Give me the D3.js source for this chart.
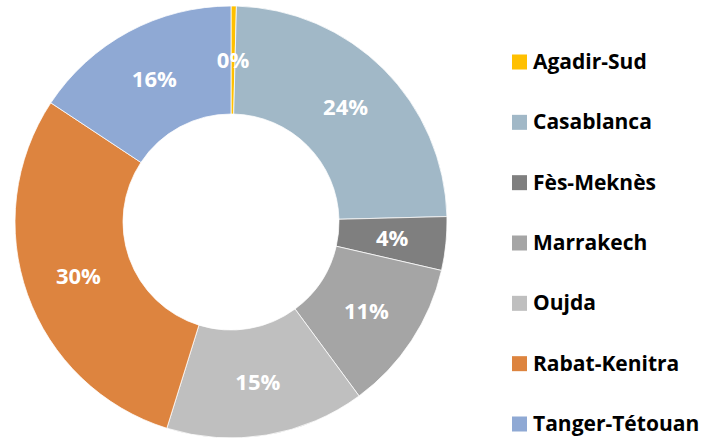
<!DOCTYPE html>
<html>
<head>
<meta charset="utf-8">
<script src="https://cdn.jsdelivr.net/npm/d3@7"></script>
<style>
  body { margin: 0; background: #fff; }
  text { font-family: "Open Sans", Lato, sans-serif; font-weight: bold; }
</style>
</head>
<body>
<script>
// data (shares in %)
var regions = ["Agadir-Sud", "Casablanca", "Fès-Meknès", "Marrakech", "Oujda", "Rabat-Kenitra", "Tanger-Tétouan"];
var shares = [0.4, 24.2, 4.0, 11.3, 14.9, 29.5, 15.7];
var labels = ["0%", "24%", "4%", "11%", "15%", "30%", "16%"];
var colors = ["#FFC000", "#A1B8C7", "#7F7F7F", "#A5A5A5", "#BFBFBF", "#DD843F", "#8FA9D4"];

var width = 707, height = 438;
var cx = 231, cy = 222, outer = 216, inner = 108;

var svg = d3.select("body").append("svg")
  .attr("width", width)
  .attr("height", height);

var color = d3.scaleOrdinal().domain(regions).range(colors);

var pie = d3.pie().sort(null).value(function(d, i) { return shares[i]; });
var arcs = pie(regions);

var arc = d3.arc().innerRadius(inner).outerRadius(outer);
var labelArc = d3.arc().innerRadius((inner + outer) / 2).outerRadius((inner + outer) / 2);

var g = svg.append("g").attr("transform", "translate(" + cx + "," + cy + ")");

g.selectAll("path")
  .data(arcs)
  .enter().append("path")
  .attr("d", arc)
  .attr("fill", function(d) { return color(d.data); })
  .attr("stroke", "#fff")
  .attr("stroke-width", 0.75);

g.selectAll("text")
  .data(arcs)
  .enter().append("text")
  .attr("transform", function(d) { return "translate(" + labelArc.centroid(d) + ")"; })
  .attr("text-anchor", "middle")
  .attr("dy", "0.36em")
  .attr("fill", "#fff")
  .attr("font-size", 22)
  .text(function(d, i) { return labels[i]; });

// legend
var legendY = d3.scalePoint().domain(regions).range([62, 424]);

var legend = svg.append("g").selectAll("g")
  .data(regions)
  .enter().append("g")
  .attr("transform", function(d) { return "translate(512," + legendY(d) + ")"; });

legend.append("rect")
  .attr("x", 0).attr("y", -7.5)
  .attr("width", 15).attr("height", 15)
  .attr("fill", function(d) { return color(d); });

legend.append("text")
  .attr("x", 21)
  .attr("dy", "0.33em")
  .attr("font-size", 21)
  .attr("fill", "#000")
  .text(function(d) { return d; });
</script>
</body>
</html>
